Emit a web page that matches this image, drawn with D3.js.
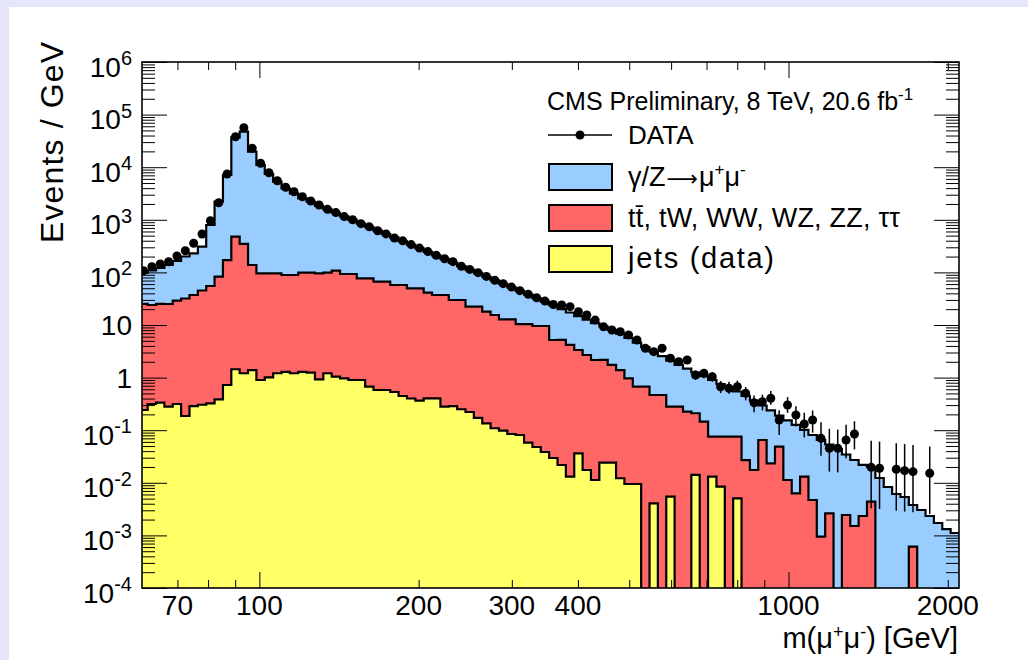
<!DOCTYPE html>
<html>
<head>
<meta charset="utf-8">
<script src="https://cdn.jsdelivr.net/npm/d3@7"></script>
<style>
  body { margin: 0; background: #e6e6fa; }
  svg { display: block; font-family: "Liberation Sans", Arial, Helvetica, sans-serif; }
  .tick line { stroke: #000; }
  .domain { display: none; }
</style>
</head>
<body>
<svg id="chart" width="1028" height="660"></svg>
<script>
// log-spaced mass bins (GeV)
var binLow = 59.3, binHigh = 2100, nBins = 98;

// observed events / GeV per bin (null = empty bin)
var dataValues = [107.7, 128.4, 144.4, 159.7, 205, 258.5, 357.5, 537, 961, 2114,
  7426, 37990, 56350, 22870, 11860, 7862, 5538, 4148, 3421, 2749,
  2278, 1911, 1583, 1370, 1150, 1000, 845, 735, 620, 540,
  450, 398, 338, 290, 249, 212, 182, 160, 131, 114,
  99, 84, 71, 61, 52.5, 45, 38.5, 33, 28.5, 24.5,
  24.0, 22.3, 17.9, 15.5, 12.4, 9.28, 8.03, 7.46, 6.45, 5.19,
  3.61, 3.11, 3.61, 2.33, 2.01, 2.16, 1.12, 1.21, 1.04, 0.671,
  0.626, 0.671, 0.503, 0.333, 0.348, 0.404, 0.156, 0.301, 0.195, 0.131,
  0.156, 0.0701, 0.0453, 0.0453, 0.0651, 0.0847, null, 0.0197, 0.0189, null,
  0.0181, 0.0170, 0.0163, null, 0.0152, null, null, null];

// gamma/Z -> mu mu
var dyValues = [72.3, 84.7, 96.1, 113.2, 135.7, 168.7, 193.5, 262.7, 741, 2126,
  6935, 36540, 46950, 19570, 10910, 7330, 5204, 3882, 3101, 2464,
  2110, 1734, 1484, 1248, 1067, 900, 773, 651, 556, 467,
  399, 333, 285, 237, 204, 173, 143, 124, 102, 90.7,
  74.3, 64.8, 55.3, 47.8, 39.1, 34.0, 27.6, 22.9, 18.3, 18.6,
  14.9, 13.1, 11.45, 10.0, 8.74, 7.21, 6.29, 5.44, 4.69, 3.94,
  3.15, 2.66, 2.10, 1.83, 1.46, 1.255, 1.04, 0.918, 0.825, 0.681,
  0.568, 0.469, 0.420, 0.347, 0.230, 0.214, 0.141, 0.143, 0.120, 0.088,
  0.0764, 0.0642, 0.0509, 0.0439, 0.0321, 0.0256, 0.0195, 0.0156, 0.01234, 0.00832,
  0.00612, 0.00537, 0.00317, 0.00304, 0.00234, 0.00172, 0.00132, 0.00111];

// ttbar, tW, WW, WZ, ZZ, tautau
var ttValues = [24.9, 23.7, 24.8, 24.8, 28.7, 31.7, 36.9, 45.0, 54.8, 82.4,
  171, 476, 346, 137, 95.2, 95.1, 94.9, 87.9, 88.0, 97.4,
  97.5, 95.2, 97.5, 106.7, 92.2, 92.3, 76.3, 76.5, 66.0, 66.0,
  57.1, 57.2, 49.4, 49.4, 40.7, 36.8, 36.9, 29.6, 29.6, 22.1,
  22.1, 17.8, 15.4, 12.7, 12.7, 10.3, 10.3, 9.52, 9.53, 5.16,
  5.17, 4.16, 3.31, 2.67, 2.15, 2.14, 1.72, 1.38, 0.961, 0.662,
  0.671, 0.463, 0.467, 0.275, 0.280, 0.225, 0.196, 0.145, 0.0621, 0.0668,
  0.0752, 0.0701, 0.0271, 0.0175, 0.0651, 0.0235, 0.0486, 0.0113, 0.00632, 0.0131,
  0.00471, 0.000945, 0.00263, 0, 0.00244, 0.00151, 0.00234, 0.00437, 0, 0,
  0, 0, 0.00061, 0, 0, 0, 0, 0];

// jets (data-driven)
var jetsValues = [0.242, 0.315, 0.333, 0.280, 0.315, 0.186, 0.288, 0.305, 0.325, 0.387,
  0.723, 1.44, 1.21, 1.39, 0.900, 1.01, 1.21, 1.29, 1.21, 1.29,
  1.24, 0.928, 1.21, 1.04, 0.970, 0.900, 0.900, 0.671, 0.581, 0.581,
  0.532, 0.447, 0.401, 0.364, 0.404, 0.404, 0.280, 0.288, 0.250, 0.222,
  0.171, 0.135, 0.109, 0.0979, 0.0847, 0.0811, 0.0579, 0.0479, 0.0385, 0.0296,
  0.0218, 0.0131, 0.0364, 0.0175, 0.0113, 0.0241, 0.0241, 0.0122, 0.00949, 0.00949,
  0, 0.00408, 0, 0.00544, 0, 0, 0.0141, 0, 0.0131, 0.00843,
  0, 0.00507, 0, 0, 0, 0, 0, 0, 0, 0,
  0, 0, 0, 0, 0, 0, 0, 0, 0, 0,
  0, 0, 0, 0, 0, 0, 0, 0];

var xMajorTicks = [100, 1000];
var xMinorTicks = [70, 80, 90, 200, 300, 400, 500, 600, 700, 800, 900, 2000];
var xTickLabels = [70, 100, 200, 300, 400, 1000, 2000];
var yExponents = [-4, -3, -2, -1, 0, 1, 2, 3, 4, 5, 6];

var colors = { dy: '#99ccff', tt: '#ff6666', jets: '#ffff66' };

var margin = {top: 62, left: 142},
    width = 817,
    height = 526;

var svg = d3.select('#chart');

// white pad on lavender canvas
svg.append('rect')
  .attr('x', 9).attr('y', 7).attr('width', 1019).attr('height', 653)
  .attr('fill', '#fff');

var x = d3.scaleLog().domain([60, 2100]).range([0, width]),
    y = d3.scaleLog().domain([1e-4, 1e6]).range([height, 0]);

var g = svg.append('g')
  .attr('transform', 'translate(' + margin.left + ',' + margin.top + ')');

g.append('clipPath').attr('id', 'plotclip')
  .append('rect').attr('width', width).attr('height', height);

var edges = d3.range(nBins + 1).map(function(i) {
  return binLow * Math.pow(binHigh / binLow, i / nBins);
});

var rows = d3.range(nBins).map(function(i) {
  return {dy: dyValues[i], tt: ttValues[i], jets: jetsValues[i]};
});
var stacked = d3.stack().keys(['jets', 'tt', 'dy'])(rows);

var floorVal = 1e-6;
function stepPoints(layer) {
  var pts = layer.map(function(d, i) { return [edges[i], d[1]]; });
  pts.push([edges[nBins], layer[nBins - 1][1]]);
  return pts;
}

var area = d3.area()
  .curve(d3.curveStepAfter)
  .x(function(d) { return x(d[0]); })
  .y0(height + 10)
  .y1(function(d) { return y(Math.max(d[1], floorVal)); });

var line = d3.line()
  .curve(d3.curveStepAfter)
  .x(function(d) { return x(d[0]); })
  .y(function(d) { return y(Math.max(d[1], floorVal)); });

var plot = g.append('g').attr('clip-path', 'url(#plotclip)');

// draw the stack from the top (total) down
[[2, colors.dy], [1, colors.tt], [0, colors.jets]].forEach(function(s) {
  var pts = stepPoints(stacked[s[0]]);
  plot.append('path').attr('d', area(pts)).attr('fill', s[1]);
  plot.append('path').attr('d', line(pts))
    .attr('fill', 'none').attr('stroke', '#000').attr('stroke-width', 2.2);
});

// data points with Poisson (Garwood-like) intervals
function poisLo(n) { return n <= 0 ? 0 : n * Math.pow(1 - 1 / (9 * n) - 1 / (3 * Math.sqrt(n)), 3); }
function poisHi(n) { var m = n + 1; return m * Math.pow(1 - 1 / (9 * m) + 1 / (3 * Math.sqrt(m)), 3); }

var pts = [];
dataValues.forEach(function(v, i) {
  if (v == null) return;
  var w = edges[i + 1] - edges[i];
  var n = Math.max(1, Math.round(v * w));
  pts.push({
    xc: Math.sqrt(edges[i] * edges[i + 1]),
    v: v,
    lo: Math.max(poisLo(n) / w, floorVal),
    hi: poisHi(n) / w
  });
});

plot.selectAll('.err').data(pts).enter().append('line')
  .attr('class', 'err')
  .attr('x1', function(d) { return x(d.xc); })
  .attr('x2', function(d) { return x(d.xc); })
  .attr('y1', function(d) { return y(d.lo); })
  .attr('y2', function(d) { return y(d.hi); })
  .attr('stroke', '#000').attr('stroke-width', 1.5);

plot.selectAll('.pt').data(pts).enter().append('circle')
  .attr('class', 'pt')
  .attr('cx', function(d) { return x(d.xc); })
  .attr('cy', function(d) { return y(d.v); })
  .attr('r', 4.5).attr('fill', '#000');

// ticks
var yMajor = yExponents.map(function(e) { return Math.pow(10, e); });
var yMinor = [];
d3.range(-4, 6).forEach(function(e) {
  d3.range(2, 10).forEach(function(m) { yMinor.push(m * Math.pow(10, e)); });
});

function addAxis(axis, transform) {
  g.append('g').attr('class', 'axis').attr('transform', transform || null).call(axis);
}
addAxis(d3.axisBottom(x).tickValues(xMinorTicks).tickSize(-8).tickFormat(''), 'translate(0,' + height + ')');
addAxis(d3.axisBottom(x).tickValues(xMajorTicks).tickSize(-16).tickFormat(''), 'translate(0,' + height + ')');
addAxis(d3.axisTop(x).tickValues(xMinorTicks).tickSize(-8).tickFormat(''));
addAxis(d3.axisTop(x).tickValues(xMajorTicks).tickSize(-16).tickFormat(''));
addAxis(d3.axisLeft(y).tickValues(yMinor).tickSize(-13).tickFormat(''));
addAxis(d3.axisLeft(y).tickValues(yMajor).tickSize(-25).tickFormat(''));
addAxis(d3.axisRight(y).tickValues(yMinor).tickSize(-13).tickFormat(''), 'translate(' + width + ',0)');
addAxis(d3.axisRight(y).tickValues(yMajor).tickSize(-25).tickFormat(''), 'translate(' + width + ',0)');

g.append('rect')
  .attr('width', width).attr('height', height)
  .attr('fill', 'none').attr('stroke', '#000').attr('stroke-width', 1.6);

// tick labels
g.selectAll('.xlab').data(xTickLabels).enter().append('text')
  .attr('class', 'xlab')
  .attr('x', function(d) { return x(d); })
  .attr('y', height + 27)
  .attr('text-anchor', 'middle')
  .attr('font-size', 28)
  .text(function(d) { return d; });

yExponents.forEach(function(e) {
  var t = g.append('text')
    .attr('x', -10)
    .attr('text-anchor', 'end')
    .attr('font-size', 28);
  var ty = y(Math.pow(10, e));
  if (e === 0 || e === 1) {
    t.attr('y', ty + 10).text(e === 0 ? '1' : '10');
  } else {
    t.attr('y', ty + 14.5);
    t.append('tspan').text('10');
    t.append('tspan').attr('dy', -11.5).attr('font-size', 20).text(e);
  }
});

// axis titles
var xt = svg.append('text')
  .attr('x', 958).attr('y', 648)
  .attr('text-anchor', 'end')
  .attr('font-size', 29);
xt.append('tspan').text('m(\u03bc');
xt.append('tspan').attr('dy', -10).attr('font-size', 18).text('+');
xt.append('tspan').attr('dy', 10).text('\u03bc');
xt.append('tspan').attr('dy', -10).attr('font-size', 18).text('-');
xt.append('tspan').attr('dy', 10).text(') [GeV]');

svg.append('text')
  .attr('transform', 'translate(63,42) rotate(-90)')
  .attr('text-anchor', 'end')
  .attr('font-size', 32)
  .attr('textLength', 201)
  .attr('lengthAdjust', 'spacing')
  .text('Events / GeV');

// legend
var cms = svg.append('text').attr('x', 547).attr('y', 110).attr('font-size', 25);
cms.append('tspan').text('CMS Preliminary, 8 TeV, 20.6 fb');
cms.append('tspan').attr('dy', -10).attr('font-size', 17).text('-1');

var lg = svg.append('g');
lg.append('line').attr('x1', 548).attr('x2', 612).attr('y1', 135).attr('y2', 135)
  .attr('stroke', '#000').attr('stroke-width', 1.5);
lg.append('circle').attr('cx', 580).attr('cy', 135).attr('r', 4.5).attr('fill', '#000');
lg.append('text').attr('x', 628).attr('y', 144).attr('font-size', 26).text('DATA');

var boxes = [
  {y: 164, fill: colors.dy},
  {y: 205, fill: colors.tt},
  {y: 246, fill: colors.jets}
];
lg.selectAll('.box').data(boxes).enter().append('rect')
  .attr('class', 'box')
  .attr('x', 549).attr('y', function(d) { return d.y; })
  .attr('width', 63).attr('height', 26)
  .attr('fill', function(d) { return d.fill; })
  .attr('stroke', '#000').attr('stroke-width', 2);

var t1 = lg.append('text').attr('x', 628).attr('y', 186).attr('font-size', 27);
t1.append('tspan').text('\u03b3/Z');
t1.append('tspan').attr('font-family', 'DejaVu Sans').attr('font-size', 22).attr('dx', 1).text('\u27f6');
t1.append('tspan').attr('dx', 1).text('\u03bc');
t1.append('tspan').attr('dy', -11).attr('font-size', 17).text('+');
t1.append('tspan').attr('dy', 11).text('\u03bc');
t1.append('tspan').attr('dy', -11).attr('font-size', 17).text('-');

lg.append('text').attr('x', 628).attr('y', 227).attr('font-size', 27)
  .attr('textLength', 272).attr('lengthAdjust', 'spacing')
  .text('tt\u0304, tW, WW, WZ, ZZ, \u03c4\u03c4');
lg.append('text').attr('x', 628).attr('y', 268).attr('font-size', 29)
  .attr('textLength', 146).attr('lengthAdjust', 'spacing')
  .text('jets (data)');
</script>
</body>
</html>
